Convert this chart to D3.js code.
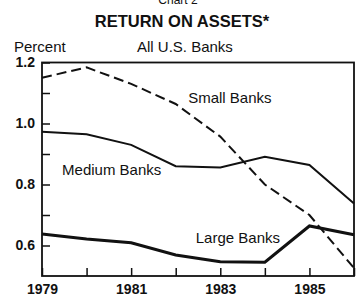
<!DOCTYPE html>
<html>
<head>
<meta charset="utf-8">
<script src="https://cdn.jsdelivr.net/npm/d3@7"></script>
<style>
  body { margin: 0; background: #fff; }
  svg { display: block; font-family: "Liberation Sans", Arial, sans-serif; }
</style>
</head>
<body>
<svg></svg>
<script>
let years = [1979, 1980, 1981, 1982, 1983, 1984, 1985, 1986]
let smallBanks = [1.15, 1.184, 1.13, 1.064, 0.957, 0.80, 0.70, 0.526]
let mediumBanks = [0.973, 0.965, 0.93, 0.86, 0.856, 0.891, 0.864, 0.738]
let largeBanks = [0.638, 0.621, 0.609, 0.569, 0.547, 0.545, 0.664, 0.635]
let yTicks = [0.6, 0.7, 0.8, 0.9, 1.0, 1.1, 1.2]
let yLabels = [0.6, 0.8, 1.0, 1.2]
let xLabels = [1979, 1981, 1983, 1985]

let width = 360
let height = 300
let plotLeft = 42, plotRight = 354, plotTop = 62.5, plotBottom = 276
let ink = '#111'

let svg = d3.select('svg')
    .attr('width', width)
    .attr('height', height)

let xScale = d3.scaleLinear()
    .domain([1979, 1986])
    .range([plotLeft, plotRight])
let yScale = d3.scaleLinear()
    .domain([0.5, 1.2])
    .range([plotBottom, plotTop])

// titles
svg.append('text')
    .attr('x', 178).attr('y', 4)
    .attr('text-anchor', 'middle')
    .attr('font-size', 12)
    .attr('fill', ink)
    .text('Chart 2')
svg.append('text')
    .attr('x', 182).attr('y', 27)
    .attr('text-anchor', 'middle')
    .attr('font-size', 16.5)
    .attr('font-weight', 'bold')
    .attr('fill', ink)
    .text('RETURN ON ASSETS*')
svg.append('text')
    .attr('x', 14).attr('y', 52)
    .attr('font-size', 15)
    .attr('fill', ink)
    .text('Percent')
svg.append('text')
    .attr('x', 137).attr('y', 52)
    .attr('font-size', 15)
    .attr('fill', ink)
    .text('All U.S. Banks')

// axes
let yAxis = d3.axisLeft(yScale)
    .tickValues(yTicks)
    .tickSize(-8)
    .tickPadding(7)
    .tickFormat((d) => yLabels.some((v) => Math.abs(v - d) < 1e-6) ? d3.format('.1f')(d) : '')
let yG = svg.append('g')
    .attr('transform', 'translate(' + plotLeft + ',0)')
    .call(yAxis)

let xAxis = d3.axisBottom(xScale)
    .tickValues(years)
    .tickSize(-8)
    .tickPadding(8)
    .tickFormat((d) => xLabels.includes(d) ? d : '')
let xG = svg.append('g')
    .attr('transform', 'translate(0,' + plotBottom + ')')
    .call(xAxis)

for (let g of [xG, yG]) {
    g.select('.domain').remove()
    g.selectAll('line').attr('stroke', ink).attr('stroke-width', 1.5)
    g.selectAll('text')
        .attr('fill', ink)
        .attr('font-size', 14)
        .attr('font-weight', 'bold')
        .attr('font-family', '"Liberation Sans", Arial, sans-serif')
}

svg.append('rect')
    .attr('x', plotLeft).attr('y', plotTop)
    .attr('width', plotRight - plotLeft).attr('height', plotBottom - plotTop)
    .attr('fill', 'none')
    .attr('stroke', ink)
    .attr('stroke-width', 1.8)

// lines
let line = d3.line()
    .x((d, i) => xScale(years[i]))
    .y((d) => yScale(d))

svg.append('path')
    .datum(smallBanks)
    .attr('d', line)
    .attr('fill', 'none')
    .attr('stroke', ink)
    .attr('stroke-width', 2)
    .attr('stroke-dasharray', '10,5')
svg.append('path')
    .datum(mediumBanks)
    .attr('d', line)
    .attr('fill', 'none')
    .attr('stroke', ink)
    .attr('stroke-width', 2)
svg.append('path')
    .datum(largeBanks)
    .attr('d', line)
    .attr('fill', 'none')
    .attr('stroke', ink)
    .attr('stroke-width', 3)

// series labels
let labels = [
    ['Small Banks', 1982.28, 1.084],
    ['Medium Banks', 1979.45, 0.848],
    ['Large Banks', 1982.45, 0.624]
]
svg.selectAll('.lbl')
    .data(labels)
    .enter()
    .append('text')
    .attr('class', 'lbl')
    .attr('x', (d) => xScale(d[1]))
    .attr('y', (d) => yScale(d[2]))
    .attr('dy', '0.35em')
    .attr('font-size', 15)
    .attr('fill', ink)
    .text((d) => d[0])
</script>
</body>
</html>
